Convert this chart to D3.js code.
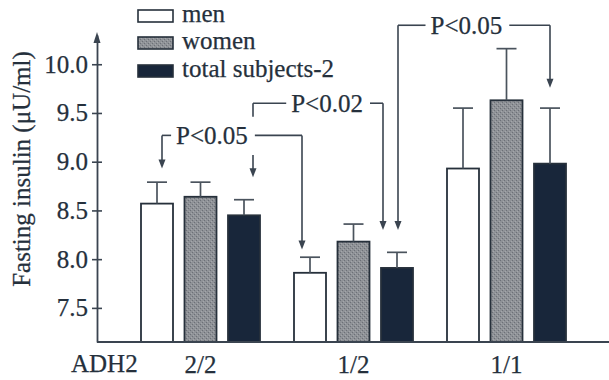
<!DOCTYPE html>
<html>
<head>
<meta charset="utf-8">
<script src="https://cdn.jsdelivr.net/npm/d3@7"></script>
<style>
  html, body { margin: 0; padding: 0; background: #ffffff; }
  svg { display: block; }
  text { font-family: "Liberation Serif", "Times New Roman", serif; fill: #25303c; stroke: #25303c; stroke-width: 0.25px; }
</style>
</head>
<body>
<svg id="chart" width="609" height="380"></svg>
<script>
// ---------------- data ----------------
const groups = ["2/2", "1/2", "1/1"];
const series = ["men", "women", "total subjects-2"];
const menValues   = [8.57, 7.86, 8.93];
const menErrors   = [0.22, 0.16, 0.62];
const womenValues = [8.64, 8.18, 9.63];
const womenErrors = [0.15, 0.18, 0.53];
const totalValues = [8.45, 7.91, 8.98];
const totalErrors = [0.16, 0.16, 0.57];
const yTicks = [7.5, 8.0, 8.5, 9.0, 9.5, 10.0];
const xAxisTitle = "ADH2";
const yAxisTitle = "Fasting insulin (\u03bcU/ml)";

// significance brackets (group, series, significance label)
const sigLabels = ["P<0.05", "P<0.02", "P<0.05"];
const sigFrom   = [["2/2", "men"], ["2/2", "total subjects-2"], ["1/2", "total subjects-2"]];
const sigTo     = [["1/2", "men"], ["1/2", "total subjects-2"], ["1/1", "total subjects-2"]];

// ---------------- layout / style ----------------
const seriesValues = [menValues, womenValues, totalValues];
const seriesErrors = [menErrors, womenErrors, totalErrors];
const colors = { fillMen: "#ffffff", fillWomen: "url(#stipple)", fillTotal: "#18263a", stroke: "#26303b", line: "#3a4450" };
const fills = [colors.fillMen, colors.fillWomen, colors.fillTotal];
const FS = 25;

const rows = [];
series.forEach((s, si) => groups.forEach((g, gi) => {
  rows.push({ series: s, group: g, value: seriesValues[si][gi], err: seriesErrors[si][gi], fill: fills[si] });
}));

const svg = d3.select("#chart");
const axisX = 97, baseY = 342;

// stipple texture for the grey bars
const pat = svg.append("defs").append("pattern").attr("id", "stipple")
  .attr("width", 4).attr("height", 4).attr("patternUnits", "userSpaceOnUse");
pat.append("rect").attr("width", 4).attr("height", 4).attr("fill", "#8f9297");
pat.append("rect").attr("x", 0).attr("y", 0).attr("width", 1).attr("height", 1).attr("fill", "#6c7077");
pat.append("rect").attr("x", 2).attr("y", 2).attr("width", 1).attr("height", 1).attr("fill", "#6c7077");
pat.append("rect").attr("x", 1).attr("y", 3).attr("width", 1).attr("height", 1).attr("fill", "#a4a7ab");
pat.append("rect").attr("x", 3).attr("y", 1).attr("width", 1).attr("height", 1).attr("fill", "#a4a7ab");

const y = d3.scaleLinear().domain([7.15, 10.3]).range([baseY, 35]);
const x0 = d3.scaleBand().domain(groups).range([124, 583]).padding(0);
const x1 = d3.scalePoint().domain(series).range([-43.5, 43.5]);
const barW = 32;
const cx = (g, s) => x0(g) + x0.bandwidth() / 2 + x1(s);

// bars
svg.append("g").selectAll("rect").data(rows).join("rect")
  .attr("x", d => cx(d.group, d.series) - barW / 2)
  .attr("y", d => y(d.value))
  .attr("width", barW)
  .attr("height", d => baseY - y(d.value))
  .attr("fill", d => d.fill)
  .attr("stroke", colors.stroke)
  .attr("stroke-width", 1.8);

// error bars
const eb = svg.append("g").attr("stroke", "#4a535d").attr("stroke-width", 1.7);
eb.selectAll("line.v").data(rows).join("line").attr("class", "v")
  .attr("x1", d => cx(d.group, d.series)).attr("x2", d => cx(d.group, d.series))
  .attr("y1", d => y(d.value)).attr("y2", d => y(d.value + d.err));
eb.selectAll("line.c").data(rows).join("line").attr("class", "c")
  .attr("x1", d => cx(d.group, d.series) - 10).attr("x2", d => cx(d.group, d.series) + 10)
  .attr("y1", d => y(d.value + d.err)).attr("y2", d => y(d.value + d.err));

// y axis
const yAxis = d3.axisLeft(y).tickValues(yTicks).tickFormat(d3.format(".1f"))
  .tickSizeInner(5).tickSizeOuter(0).tickPadding(4);
const gy = svg.append("g").attr("transform", `translate(${axisX},0)`).call(yAxis);
gy.select(".domain").attr("stroke", colors.line).attr("stroke-width", 1.8);
gy.selectAll(".tick line").attr("x1", 5).attr("stroke", colors.line).attr("stroke-width", 1.6);
gy.selectAll(".tick text").attr("font-size", FS);
svg.append("path")
  .attr("d", `M${axisX},${y(10.3) - 3} L${axisX - 3.5},${y(10.3) + 8} L${axisX + 3.5},${y(10.3) + 8} Z`)
  .attr("fill", colors.line);

// x axis
svg.append("line").attr("x1", axisX).attr("x2", 609).attr("y1", baseY).attr("y2", baseY)
  .attr("stroke", colors.line).attr("stroke-width", 2);
const xAxis = d3.axisBottom(x0).tickSize(0).tickPadding(13);
const gx = svg.append("g").attr("transform", `translate(0,${baseY})`).call(xAxis);
gx.select(".domain").remove();
gx.selectAll(".tick text").attr("font-size", FS);

svg.append("text").attr("x", 71).attr("y", 372).attr("font-size", FS).text(xAxisTitle);
svg.append("text").attr("transform", "translate(30,169) rotate(-90)")
  .attr("text-anchor", "middle").attr("font-size", FS).text(yAxisTitle);

// legend
const leg = svg.append("g").selectAll("g").data(series).join("g")
  .attr("transform", (d, i) => `translate(138,${[10, 37, 65][i]})`);
leg.append("rect").attr("width", 35).attr("height", 12)
  .attr("fill", (d, i) => fills[i]).attr("stroke", colors.stroke).attr("stroke-width", 1.6);
leg.append("text").attr("x", 44).attr("y", 12).attr("font-size", FS).text(d => d);

// significance brackets
const bracketCfg = [
  { level: 9.27, labelPos: 0.357, from: { dx: 5, tip: 8.93 }, to: { dx: -8, tip: 8.10 } },
  { level: 9.60, labelPos: 0.57, from: { dx: 9, tip: 8.84, gap: [9.46, 9.07] }, to: { dx: -14, tip: 8.30 } },
  { level: 10.40, labelPos: 0.45, from: { dx: 1, tip: 8.30 }, to: { dx: 0, tip: 9.76 } }
];
const ann = svg.append("g");
sigLabels.forEach((lab, i) => {
  const c = bracketCfg[i];
  const xa = cx(sigFrom[i][0], sigFrom[i][1]) + c.from.dx;
  const xb = cx(sigTo[i][0], sigTo[i][1]) + c.to.dx;
  const yl = y(c.level);
  const lx = xa + c.labelPos * (xb - xa);
  const t = ann.append("text").attr("x", lx).attr("y", yl).attr("dy", "0.35em")
    .attr("text-anchor", "middle").attr("font-size", FS).text(lab);
  const w = t.node().getComputedTextLength();
  const seg = (a, b, c2, d) => ann.append("line").attr("x1", a).attr("y1", b).attr("x2", c2).attr("y2", d)
    .attr("stroke", colors.line).attr("stroke-width", 1.6);
  seg(xa, yl, lx - w / 2 - 5, yl);
  seg(lx + w / 2 + 7, yl, xb, yl);
  [[xa, c.from], [xb, c.to]].forEach(([xx, end]) => {
    const tipY = y(end.tip);
    if (end.gap) {
      seg(xx, yl, xx, y(end.gap[0]));
      seg(xx, y(end.gap[1]), xx, tipY - 8);
    } else {
      seg(xx, yl, xx, tipY - 8);
    }
    ann.append("path").attr("d", `M${xx},${tipY} L${xx - 3.5},${tipY - 9} L${xx + 3.5},${tipY - 9} Z`)
      .attr("fill", colors.line);
  });
});
</script>
</body>
</html>
